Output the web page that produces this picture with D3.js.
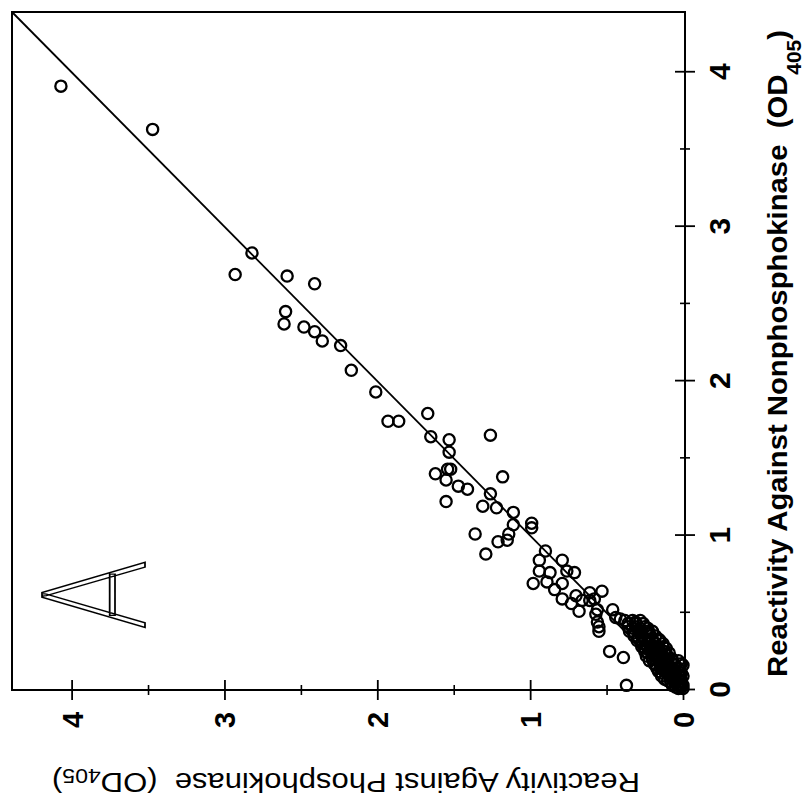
<!DOCTYPE html>
<html>
<head>
<meta charset="utf-8">
<script src="https://cdn.jsdelivr.net/npm/d3@7"></script>
<style>
  body { margin: 0; background: #fff; }
  svg { display: block; }
  text { font-family: "Liberation Sans", Arial, sans-serif; fill: #000; }
</style>
</head>
<body>
<svg id="chart" width="807" height="804"></svg>
<script>
// reactivity against nonphosphokinase (OD405)
var nonphos = [3.91, 3.63, 2.83, 2.69, 2.68, 2.63, 2.45, 2.37, 2.35, 2.32, 2.26, 2.23, 2.07, 1.93,
    1.74, 1.74, 1.79, 1.64, 1.62, 1.54, 1.65, 1.40, 1.43, 1.43, 1.36, 1.32, 1.30, 1.22, 1.38, 1.27,
    1.19, 1.18, 1.15, 1.07, 1.01, 1.01, 0.96, 0.97, 1.08, 1.05, 0.88, 0.90, 0.84, 0.84, 0.77, 0.76,
    0.77, 0.76, 0.69, 0.70, 0.69, 0.65, 0.63, 0.64, 0.59, 0.61, 0.56, 0.58, 0.51, 0.58, 0.49, 0.44,
    0.41, 0.38, 0.52, 0.47, 0.46, 0.44, 0.37, 0.25, 0.21, 0.03, 0.16, 0.59, 0.52,
    0.45, 0.45, 0.45, 0.41, 0.41, 0.41, 0.38, 0.38, 0.38, 0.38, 0.35, 0.35, 0.35, 0.35,
    0.32, 0.32, 0.32, 0.32, 0.28, 0.28, 0.28, 0.28, 0.25, 0.25, 0.25, 0.25, 0.22, 0.22, 0.22, 0.22,
    0.19, 0.19, 0.19, 0.19, 0.19, 0.16, 0.16, 0.16, 0.16, 0.12, 0.12, 0.12, 0.12,
    0.09, 0.09, 0.09, 0.09, 0.06, 0.06, 0.06, 0.03, 0.03, 0.03, 0.01, 0.01,
    0.43, 0.43, 0.43, 0.40, 0.40, 0.40, 0.37, 0.37, 0.37, 0.33, 0.33, 0.33, 0.33,
    0.30, 0.30, 0.30, 0.30, 0.27, 0.27, 0.27, 0.27, 0.24, 0.24, 0.24, 0.24, 0.20, 0.20, 0.20, 0.20,
    0.17, 0.17, 0.17, 0.17, 0.17, 0.14, 0.14, 0.14, 0.14, 0.11, 0.11, 0.11, 0.11,
    0.07, 0.07, 0.07, 0.05, 0.05, 0.05, 0.02, 0.02];

// reactivity against phosphokinase (OD405)
var phos = [4.07, 3.47, 2.82, 2.93, 2.59, 2.41, 2.60, 2.61, 2.48, 2.41, 2.36, 2.24, 2.17, 2.01,
    1.93, 1.86, 1.67, 1.65, 1.53, 1.53, 1.26, 1.62, 1.54, 1.52, 1.55, 1.47, 1.41, 1.55, 1.18, 1.26,
    1.31, 1.22, 1.11, 1.11, 1.14, 1.36, 1.21, 1.15, 0.99, 0.99, 1.29, 0.90, 0.94, 0.79, 0.94, 0.87,
    0.76, 0.71, 0.98, 0.89, 0.79, 0.84, 0.61, 0.53, 0.79, 0.70, 0.73, 0.66, 0.68, 0.61, 0.57, 0.56,
    0.55, 0.55, 0.46, 0.44, 0.41, 0.31, 0.28, 0.48, 0.39, 0.37, 0.00, 0.58, 0.56,
    0.38, 0.33, 0.28, 0.36, 0.31, 0.25, 0.35, 0.29, 0.24, 0.20, 0.32, 0.27, 0.22, 0.18,
    0.30, 0.25, 0.20, 0.15, 0.27, 0.23, 0.18, 0.13, 0.25, 0.21, 0.16, 0.12, 0.24, 0.19, 0.14, 0.10,
    0.22, 0.17, 0.12, 0.07, 0.03, 0.18, 0.14, 0.09, 0.05, 0.16, 0.12, 0.07, 0.03,
    0.14, 0.09, 0.05, 0.00, 0.10, 0.06, 0.01, 0.07, 0.03, 0.00, 0.03, 0.00,
    0.36, 0.31, 0.26, 0.33, 0.28, 0.23, 0.32, 0.27, 0.22, 0.29, 0.25, 0.20, 0.16,
    0.27, 0.22, 0.18, 0.13, 0.25, 0.20, 0.16, 0.11, 0.23, 0.18, 0.14, 0.09, 0.20, 0.16, 0.11, 0.07,
    0.19, 0.15, 0.10, 0.06, 0.01, 0.17, 0.12, 0.08, 0.03, 0.14, 0.10, 0.05, 0.01,
    0.12, 0.07, 0.03, 0.08, 0.05, 0.01, 0.05, 0.01];

// identity line
var fitX = [0, 4.39];
var fitY = [0, 4.39];

var majorTicks = [0, 1, 2, 3, 4];
var minorTicks = [0.5, 1.5, 2.5, 3.5];

var xTitle = "Reactivity Against Nonphosphokinase";
var yTitle = "Reactivity Against Phosphokinase";

// plot is drawn upright, then turned a quarter turn counter-clockwise
var W = 678, H = 673;

var x = d3.scaleLinear().domain([0, 4.39]).range([0, W]);
var y = d3.scaleLinear().domain([0, 4.39]).range([671, 0]);

var svg = d3.select("#chart");
svg.append("rect").attr("width", 807).attr("height", 804).attr("fill", "#fff");

var g = svg.append("g")
    .attr("transform", "translate(12,690) rotate(-90)");

// frame
g.append("rect")
    .attr("width", W).attr("height", H)
    .attr("fill", "none").attr("stroke", "#000").attr("stroke-width", 2);

// x axis (nonphosphokinase)
var gx = g.append("g")
    .attr("transform", "translate(0," + H + ")")
    .call(d3.axisBottom(x).tickValues(majorTicks).tickSize(10).tickFormat(d3.format("d")));
gx.select(".domain").remove();
gx.selectAll(".tick line").attr("y1", -10).attr("stroke-width", 1.8);
gx.selectAll(".tick text")
    .attr("y", 45).attr("dy", null)
    .style("font-size", "30px").style("font-weight", "bold")
    .style("font-family", "'Liberation Sans', Arial, sans-serif");

var gxm = g.append("g")
    .attr("transform", "translate(0," + H + ")")
    .call(d3.axisBottom(x).tickValues(minorTicks).tickSize(5).tickFormat(""));
gxm.select(".domain").remove();
gxm.selectAll(".tick line").attr("y1", -5).attr("stroke-width", 1.6);

// y axis (phosphokinase)
var gy = g.append("g")
    .call(d3.axisLeft(y).tickValues(majorTicks).tickSize(10).tickFormat(d3.format("d")));
gy.select(".domain").remove();
gy.selectAll(".tick line").attr("x1", 10).attr("stroke-width", 1.8);
gy.selectAll(".tick text")
    .attr("x", -30).attr("dy", "0.36em")
    .attr("text-anchor", "middle")
    .style("font-size", "29px").style("font-weight", "bold")
    .style("font-family", "'Liberation Sans', Arial, sans-serif");

var gym = g.append("g")
    .call(d3.axisLeft(y).tickValues(minorTicks).tickSize(5).tickFormat(""));
gym.select(".domain").remove();
gym.selectAll(".tick line").attr("x1", 5).attr("stroke-width", 1.6);

// identity line
var line = d3.line()
    .x(function(d, i) { return x(fitX[i]); })
    .y(function(d, i) { return y(fitY[i]); });
g.append("path")
    .datum(fitX)
    .attr("d", line)
    .attr("fill", "none").attr("stroke", "#000").attr("stroke-width", 1.8);

// points
g.selectAll(".pt")
    .data(nonphos)
  .enter().append("circle")
    .attr("class", "pt")
    .attr("cx", function(d) { return x(d); })
    .attr("cy", function(d, i) { return y(phos[i]); })
    .attr("r", 5.6)
    .attr("fill", "none").attr("stroke", "#000").attr("stroke-width", 2.3);

// panel letter
g.append("text")
    .attr("transform", "translate(95,133) scale(0.78,1)")
    .attr("text-anchor", "middle")
    .style("font-family", "Roboto, 'DejaVu Sans', sans-serif")
    .style("font-weight", 200)
    .style("font-size", "145px")
    .style("fill", "#fff")
    .attr("stroke", "#000").attr("stroke-width", 1.8)
    .text("A");

// x title
var xt = g.append("text")
    .attr("x", 336.5).attr("y", 775)
    .attr("text-anchor", "middle")
    .attr("textLength", 647).attr("lengthAdjust", "spacingAndGlyphs")
    .style("font-size", "28px").style("font-weight", "bold");
xt.append("tspan").text(xTitle + "\u00a0\u00a0(OD");
xt.append("tspan").attr("dy", 14).style("font-size", "20px").text("405");
xt.append("tspan").attr("dy", -14).text(")");

// y title
var yt = g.append("text")
    .attr("transform", "translate(-83,334) rotate(-90)")
    .attr("text-anchor", "middle")
    .attr("textLength", 588).attr("lengthAdjust", "spacingAndGlyphs")
    .style("font-size", "27px");
yt.append("tspan").text(yTitle + "\u00a0\u00a0(OD");
yt.append("tspan").attr("dy", 4).style("font-size", "20px").text("405");
yt.append("tspan").attr("dy", -4).text(")");
</script>
</body>
</html>
